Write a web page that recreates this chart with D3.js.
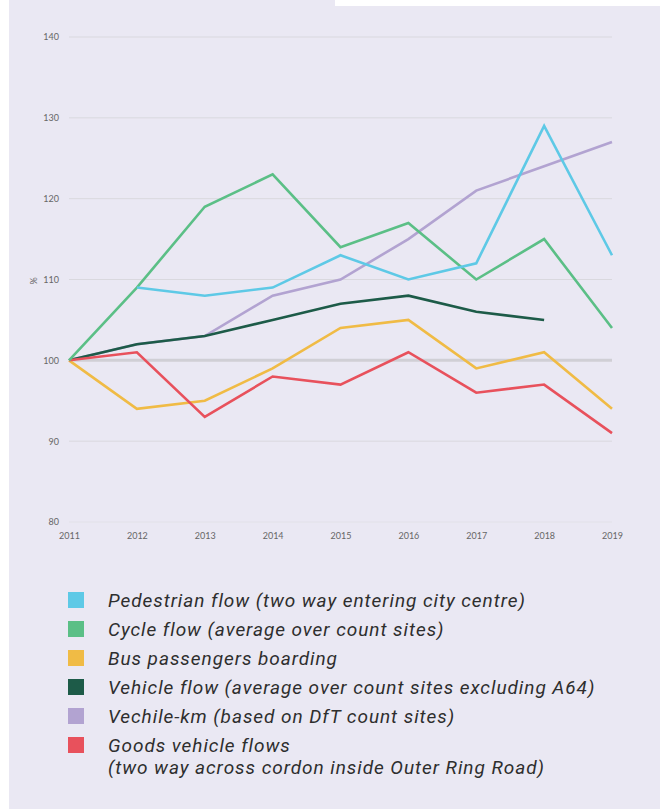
<!DOCTYPE html>
<html><head><meta charset="utf-8">
<script src="https://cdn.jsdelivr.net/npm/d3@7"></script>
<style>body{margin:0;background:#fff;}svg{display:block;}</style>
</head><body>
<svg id="c" width="662" height="809"></svg>
<script>
const years = [2011,2012,2013,2014,2015,2016,2017,2018,2019];
const yTicks = [80,90,100,110,120,130,140];
const pedestrian = [null,109,108,109,113,110,112,129,113];
const cycle = [100,109,119,123,114,117,110,115,104];
const bus = [100,94,95,99,104,105,99,101,94];
const vehicleFlow = [100,102,103,105,107,108,106,105,null];
const vehicleKm = [100,102,103,108,110,115,121,124,127];
const goods = [100,101,93,98,97,101,96,97,91];
const seriesNames = [
  ["Pedestrian flow (two way entering city centre)"],
  ["Cycle flow (average over count sites)"],
  ["Bus passengers boarding"],
  ["Vehicle flow (average over count sites excluding A64)"],
  ["Vechile-km (based on DfT count sites)"],
  ["Goods vehicle flows","(two way across cordon inside Outer Ring Road)"]
];
const colors = ["#5ec9e6","#5bbf86","#f0bb45","#1d5b48","#b2a3d1","#e8515c"];
const seriesData = [pedestrian,cycle,bus,vehicleFlow,vehicleKm,goods];
const drawOrder = [4,3,2,5,1,0];

const svg = d3.select("#c");
svg.append("rect").attr("x",9).attr("y",0).attr("width",651).attr("height",809).attr("fill","#eae8f3");
svg.append("rect").attr("x",335).attr("y",0).attr("width",327).attr("height",6).attr("fill","#fff");

const x = d3.scaleLinear().domain([2011,2019]).range([69,612]);
const y = d3.scaleLinear().domain([80,140]).range([522,37]);

const g = svg.append("g");
g.selectAll("line.grid").data(yTicks).join("line")
  .attr("x1",x(2011)).attr("x2",x(2019))
  .attr("y1",d=>y(d)).attr("y2",d=>y(d))
  .attr("stroke",d=>d===100?"#d0cfd5":(d===80?"#e2e1e8":"#d9d8de"))
  .attr("stroke-width",d=>d===100?3:1);

const ya = svg.append("g").attr("transform","translate(59,0)")
  .call(d3.axisLeft(y).tickValues(yTicks).tickSize(0).tickPadding(0).tickFormat(d3.format("d")));
ya.select(".domain").remove();
ya.selectAll("text").attr("font-family","Lato, 'DejaVu Sans', sans-serif").attr("font-size",9).attr("fill","#666");

const xa = svg.append("g").attr("transform","translate(0,530)")
  .call(d3.axisBottom(x).tickValues(years).tickSize(0).tickPadding(3).tickFormat(d3.format("d")));
xa.select(".domain").remove();
xa.selectAll("text").attr("font-family","Lato, 'DejaVu Sans', sans-serif").attr("font-size",9).attr("fill","#666");

svg.append("text").attr("transform","translate(37,281) rotate(-90)")
  .attr("text-anchor","middle").attr("font-family","Lato, 'DejaVu Sans', sans-serif")
  .attr("font-size",9).attr("fill","#666").text("%");

const line = d3.line().defined(d=>d[1]!=null).x(d=>x(d[0])).y(d=>y(d[1]));
drawOrder.forEach(i=>{
  const pts = years.map((yr,j)=>[yr,seriesData[i][j]]);
  g.append("path").attr("d",line(pts)).attr("fill","none")
    .attr("stroke",colors[i]).attr("stroke-width",2.6).attr("stroke-linejoin","miter");
});

const rowsY = [600,629,658,687,716,745];
const leg = svg.append("g");
seriesNames.forEach((lines,i)=>{
  leg.append("rect").attr("x",68).attr("y",rowsY[i]-8).attr("width",16).attr("height",16).attr("fill",colors[i]);
  const t = leg.append("text").attr("x",108).attr("y",rowsY[i]+7)
    .attr("font-family","Roboto, sans-serif").attr("font-style","italic")
    .attr("font-size",19).attr("letter-spacing",0.95).attr("fill","#2e2e2e");
  lines.forEach((l,k)=>t.append("tspan").attr("x",108).attr("dy",k===0?0:22).text(l));
});
</script>
</body></html>
